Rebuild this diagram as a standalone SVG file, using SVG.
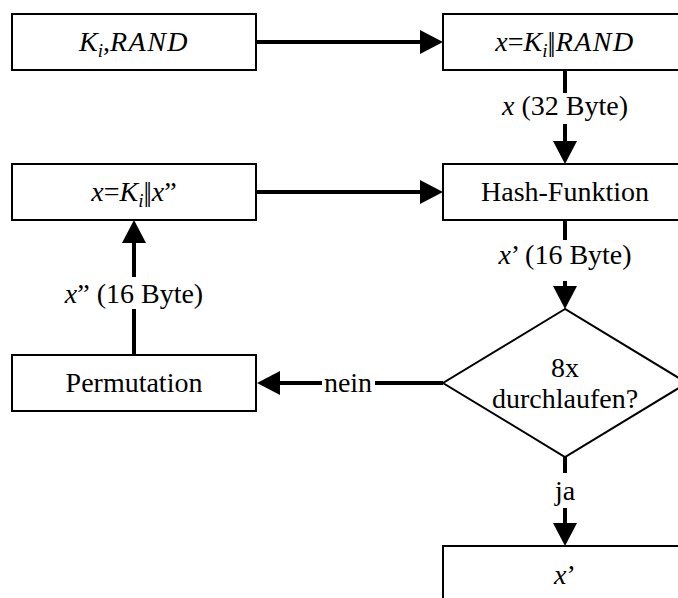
<svg xmlns="http://www.w3.org/2000/svg" width="678" height="598" viewBox="0 0 678 598" font-family="'Liberation Serif', 'Times New Roman', serif">
  <style>
    .box { fill: #ffffff; stroke: #000000; stroke-width: 2; }
    .txt { font-family: 'Liberation Serif', 'Times New Roman', serif; font-size: 28px; fill: #000000; text-anchor: middle; }
    .m { font-style: italic; }
    .mw { font-style: italic; letter-spacing: 1.5px; }
    .sub { font-style: italic; font-size: 19px; }
    .bars { letter-spacing: -3px; }
    .conn { fill: none; stroke: #000000; stroke-width: 4; }
    .gap { fill: #ffffff; stroke: none; }
  </style>
  <defs>
    <marker id="arrow" markerUnits="userSpaceOnUse" viewBox="0 0 23 24" markerWidth="23" markerHeight="24" refX="0" refY="12" orient="auto">
      <path d="M0,0 L23,12 L0,24 Z" fill="#000000"/>
    </marker>
  </defs>

  <rect width="678" height="598" fill="#ffffff"/>

  <!-- connectors -->
  <g id="connectors">
    <path class="conn" d="M256,42 H420" marker-end="url(#arrow)"/>
    <path class="conn" d="M565,70 V141" marker-end="url(#arrow)"/>
    <path class="conn" d="M256,192 H420" marker-end="url(#arrow)"/>
    <path class="conn" d="M565,220 V286" marker-end="url(#arrow)"/>
    <path class="conn" d="M443,383 H280" marker-end="url(#arrow)"/>
    <path class="conn" d="M134,355 V243" marker-end="url(#arrow)"/>
    <path class="conn" d="M565,457 V523" marker-end="url(#arrow)"/>

    <!-- edge labels -->
    <g id="label-x32">
      <rect class="gap" x="505" y="93" width="120" height="31"/>
      <text class="txt" x="565" y="115"><tspan class="m">x</tspan> (32 Byte)</text>
    </g>
    <g id="label-x16">
      <rect class="gap" x="493" y="240" width="144" height="41"/>
      <text class="txt" x="565" y="264"><tspan class="m">x</tspan>’ (16 Byte)</text>
    </g>
    <g id="label-x2-16">
      <rect class="gap" x="60" y="277" width="148" height="32"/>
      <text class="txt" x="134" y="303"><tspan class="m">x</tspan>” (16 Byte)</text>
    </g>
    <g id="label-nein">
      <rect class="gap" x="322" y="368" width="53" height="30"/>
      <text class="txt" x="348" y="392">nein</text>
    </g>
    <g id="label-ja">
      <rect class="gap" x="550" y="473" width="30" height="35"/>
      <text class="txt" x="565" y="500">ja</text>
    </g>
  </g>

  <g id="node-input">
    <rect class="box" x="12" y="14" width="244" height="56"/>
    <text class="txt" x="134" y="51"><tspan class="m">K</tspan><tspan class="sub" dy="6">i</tspan><tspan dy="-6">,</tspan><tspan class="mw">RAND</tspan></text>
  </g>

  <g id="node-concat">
    <rect class="box" x="443" y="14" width="244" height="56"/>
    <text class="txt" x="565" y="51"><tspan class="m">x</tspan>=<tspan class="m">K</tspan><tspan class="sub" dy="6">i</tspan><tspan dy="-6" class="bars">||</tspan><tspan class="mw" dx="3">RAND</tspan></text>
  </g>

  <g id="node-reconcat">
    <rect class="box" x="12" y="164" width="244" height="56"/>
    <text class="txt" x="134" y="201"><tspan class="m">x</tspan>=<tspan class="m">K</tspan><tspan class="sub" dy="6">i</tspan><tspan dy="-6" class="bars">||</tspan><tspan class="m" dx="3">x</tspan>”</text>
  </g>

  <g id="node-hash">
    <rect class="box" x="443" y="164" width="244" height="56"/>
    <text class="txt" x="565" y="201">Hash-Funktion</text>
  </g>

  <g id="node-permutation">
    <rect class="box" x="12" y="355" width="244" height="56"/>
    <text class="txt" x="134" y="392">Permutation</text>
  </g>

  <g id="node-decision">
    <polygon class="box" points="565,309 443,383 565,457 687,383"/>
    <text class="txt" x="565" y="377">8x</text>
    <text class="txt" x="565" y="408">durchlaufen?</text>
  </g>

  <g id="node-output">
    <rect class="box" x="443" y="546" width="244" height="56"/>
    <text class="txt" x="565" y="584"><tspan class="m">x</tspan>’</text>
  </g>
</svg>
